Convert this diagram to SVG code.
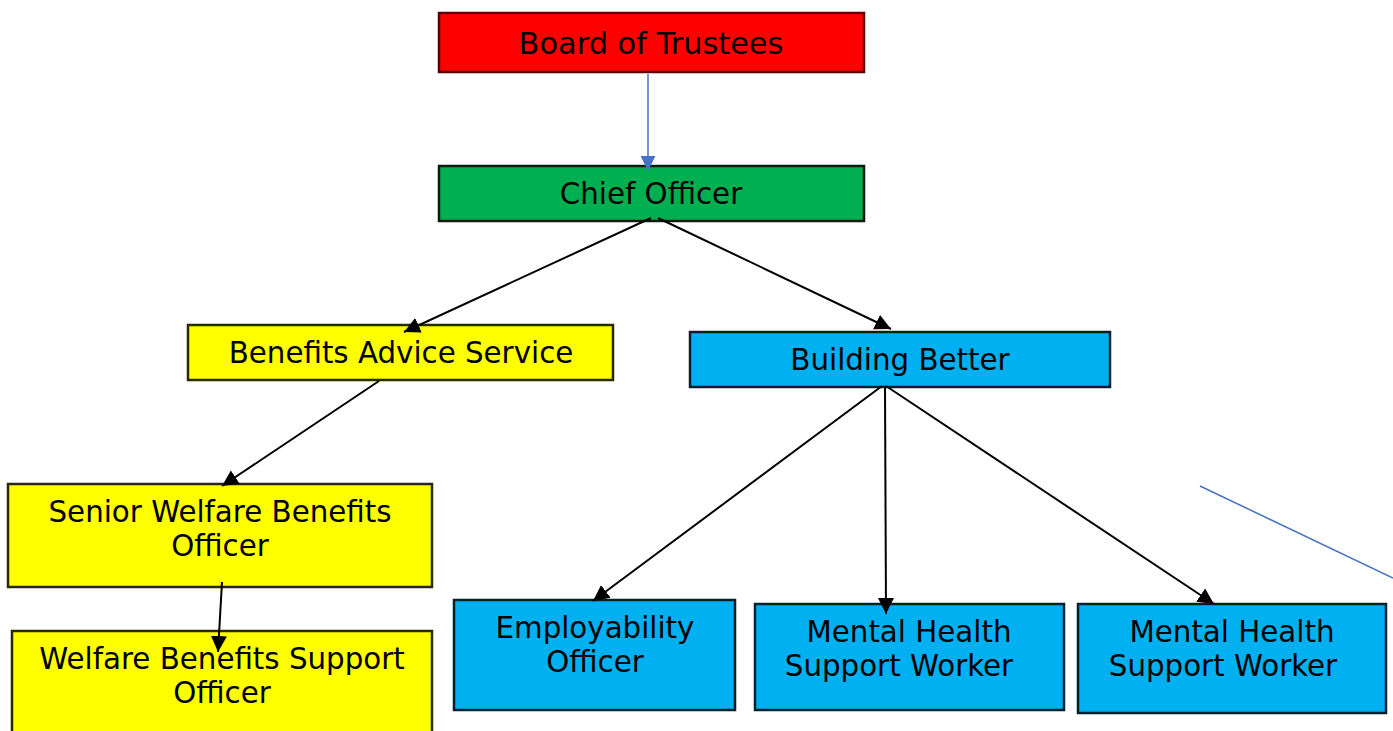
<svg xmlns="http://www.w3.org/2000/svg" width="1393" height="731" viewBox="0 0 1393 731">
<style>
.box{stroke-width:2.5}
.red{fill:#FF0000;stroke:#5a0000}
.green{fill:#00B050;stroke:#0a1a10}
.yellow{fill:#FFFF00;stroke:#2a2a00}
.blue{fill:#00B0F0;stroke:#06202e}
text{font-family:"DejaVu Sans",sans-serif;font-size:29.3px;fill:#000;text-anchor:middle}
.conn{fill:none;stroke:#000;stroke-width:2}
.connb{fill:none;stroke:#4472C4;stroke-width:1.5}
</style>
<defs>
<marker id="ah" viewBox="0 0 10 10" refX="10" refY="5" markerWidth="16" markerHeight="17" markerUnits="userSpaceOnUse" orient="auto">
<path d="M0,0 L10,5 L0,10 z" fill="#000"/>
</marker>
<marker id="ahb" viewBox="0 0 10 10" refX="10" refY="5" markerWidth="15" markerHeight="15" markerUnits="userSpaceOnUse" orient="auto">
<path d="M0,0 L10,5 L0,10 z" fill="#4472C4"/>
</marker>
</defs>
<g id="board">
<rect class="box red" x="439" y="13" width="425" height="59"/>
<text x="651" y="54" style="font-size:30.4px">Board of Trustees</text>
</g>
<g id="chief">
<rect class="box green" x="439" y="166" width="425" height="55"/>
<text x="651" y="204">Chief Officer</text>
</g>
<g id="benefits">
<rect class="box yellow" x="188" y="325" width="425" height="55"/>
<text x="401" y="363">Benefits Advice Service</text>
</g>
<g id="building">
<rect class="box blue" x="690" y="332" width="420" height="55"/>
<text x="900" y="370">Building Better</text>
</g>
<g id="senior">
<rect class="box yellow" x="8" y="484" width="424" height="103"/>
<text x="220" y="522">Senior Welfare Benefits</text>
<text x="220" y="556">Officer</text>
</g>
<g id="support">
<rect class="box yellow" x="12" y="631" width="420" height="112"/>
<text x="222" y="669">Welfare Benefits Support</text>
<text x="222" y="703">Officer</text>
</g>
<g id="employ">
<rect class="box blue" x="454" y="600" width="281" height="110"/>
<text x="595" y="638">Employability</text>
<text x="595" y="672">Officer</text>
</g>
<g id="mh1">
<rect class="box blue" x="755" y="604" width="309" height="106"/>
<text x="909" y="642">Mental Health</text>
<text x="899" y="676">Support Worker</text>
</g>
<g id="mh2">
<rect class="box blue" x="1078" y="604" width="308" height="109"/>
<text x="1232" y="642">Mental Health</text>
<text x="1223" y="676">Support Worker</text>
</g>
<g id="connectors">
<line class="connb" x1="648" y1="74" x2="648" y2="171" marker-end="url(#ahb)"/>
<line class="conn" x1="651" y1="218" x2="404" y2="332" marker-end="url(#ah)"/>
<line class="conn" x1="658" y1="218" x2="891" y2="329" marker-end="url(#ah)"/>
<line class="conn" x1="379" y1="381" x2="222" y2="486" marker-end="url(#ah)"/>
<line class="conn" x1="222" y1="582" x2="218" y2="652" marker-end="url(#ah)"/>
<line class="conn" x1="882" y1="386" x2="593" y2="601" marker-end="url(#ah)"/>
<line class="conn" x1="885" y1="386" x2="886" y2="614" marker-end="url(#ah)"/>
<line class="conn" x1="886" y1="386" x2="1214" y2="604" marker-end="url(#ah)"/>
<line class="connb" x1="1200" y1="486" x2="1393" y2="578"/>
</g>
</svg>
